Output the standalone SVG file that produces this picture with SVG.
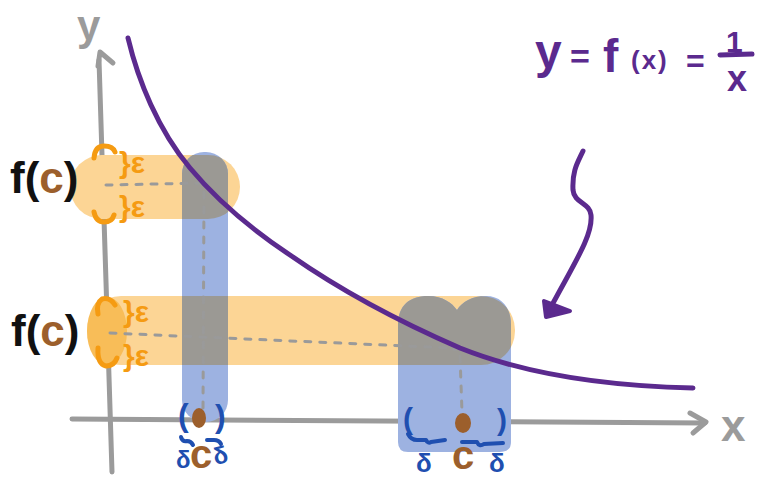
<svg xmlns="http://www.w3.org/2000/svg" width="759" height="479" viewBox="0 0 759 479">
<style>
.ax{stroke:#9b9b9b;stroke-width:5;stroke-linecap:round;stroke-linejoin:round;fill:none}
.dash{stroke:#9a9a9a;stroke-width:3;stroke-dasharray:6 9;stroke-linecap:round;fill:none}
.pur{stroke:#5b2a8e;stroke-width:5;stroke-linecap:round;stroke-linejoin:round;fill:none}
.org{stroke:#f59b12;stroke-width:5;stroke-linecap:round;stroke-linejoin:round;fill:none}
.blu{stroke:#1f4fb0;stroke-width:4;stroke-linecap:round;stroke-linejoin:round;fill:none}
.t{font-family:"Liberation Sans",Arial,sans-serif;font-weight:bold}
.bo{fill:#fcd595}
.bb{fill:#9db2e1}
.gy{fill:#9b9994}
</style>
<defs>
<rect id="o1" x="70" y="155" width="170" height="64" rx="32"/>
<rect id="o2" x="87" y="296" width="428" height="69" rx="34"/>
<rect id="b1" x="182" y="152" width="46" height="270" rx="22"/>
<path id="b2" d="M398,452 L398,325 C398,305 410,296 428,296 C443,296 452,303 457,310 C462,302 472,296 486,296 C502,296 511,308 511,325 L511,442 Q511,452 500,452 L408,452 Q398,452 398,442 Z"/>
<clipPath id="c1"><use href="#o1"/></clipPath>
<clipPath id="c2"><use href="#o2"/></clipPath>
</defs>
<rect width="759" height="479" fill="#fff"/>
<g id="axes">
<path class="ax" d="M99,60 L112,472"/>
<path class="ax" d="M98,66 L100,52 L113,63"/>
<path class="ax" d="M72,419 L705,423"/>
<path class="ax" d="M690,413 L706,422 L693,433"/>
<text class="t" x="77" y="40" font-size="42" fill="#9b9b9b">y</text>
<text class="t" x="721" y="441" font-size="44" fill="#9b9b9b">x</text>
</g>
<g id="bands">
<use href="#o1" class="bo"/>
<use href="#o2" class="bo"/>
<ellipse cx="107" cy="331" rx="20" ry="34" fill="#f8bd58"/>
<use href="#b1" class="bb"/>
<use href="#b2" class="bb"/>
<use href="#b1" class="gy" clip-path="url(#c1)"/>
<use href="#b1" class="gy" clip-path="url(#c2)"/>
<use href="#b2" class="gy" clip-path="url(#c2)"/>
</g>
<g id="guides">
<path class="dash" d="M106,185 L204,183"/>
<path class="dash" d="M204,192 L203,410"/>
<path class="dash" d="M110,333 L452,348"/>
<path class="dash" d="M460,356 L462,412"/>
<circle cx="205" cy="183" r="3" fill="#9a9a9a"/>
<circle cx="455" cy="348" r="3" fill="#9a9a9a"/>
</g>
<g id="curve">
<path class="pur" d="M128,38 C138,80 158,130 190,168 C215,198 245,225 290,255 C340,290 400,322 460,348 C520,372 600,386 693,388"/>
</g>
<g id="connectors">
<path class="pur" d="M583,151 C578,162 572,170 573,190 C574,203 590,203 591,215 C593,235 575,262 552,305"/>
<path d="M544,301 L546,317 L570,311 Z" fill="#5b2a8e" stroke="#5b2a8e" stroke-width="4" stroke-linejoin="round"/>
</g>
<g id="equation" fill="#5b2a8e">
<text class="t" x="535" y="68" font-size="48">y</text>
<text class="t" x="570" y="68" font-size="34">=</text>
<text class="t" x="603" y="72" font-size="46">f</text>
<text class="t" x="631" y="69" font-size="26" letter-spacing="2">(x)</text>
<text class="t" x="686" y="72" font-size="32">=</text>
<text class="t" x="726" y="52" font-size="30">1</text>
<path class="pur" d="M720,55 L752,54"/>
<text class="t" x="727" y="91" font-size="36">x</text>
</g>
<g id="label-fc1">
<text class="t" x="10" y="193" font-size="44" fill="#111">f(<tspan fill="#9c5f2c">c</tspan>)</text>
<path class="org" d="M94,158 Q95,146 104,146 Q113,146 115,152"/>
<path class="org" d="M94,212 Q96,222 104,222 Q112,222 114,215"/>
<text class="t" x="119" y="173" font-size="30" fill="#f59b12">}ε</text>
<text class="t" x="119" y="217" font-size="30" fill="#f59b12">}ε</text>
</g>
<g id="label-fc2">
<text class="t" x="11" y="346" font-size="44" fill="#111">f(<tspan fill="#9c5f2c">c</tspan>)</text>
<path class="org" d="M115,305 Q110,297 102,299 Q96,303 98,314"/>
<path class="org" d="M98,348 Q97,364 106,366 Q114,366 117,358"/>
<text class="t" x="123" y="322" font-size="30" fill="#f59b12">}ε</text>
<text class="t" x="123" y="366" font-size="30" fill="#f59b12">}ε</text>
</g>
<g id="label-c1">
<ellipse cx="199" cy="418" rx="7" ry="10" fill="#9c5f2c"/>
<text class="t" x="178" y="426" font-size="32" fill="#1f4fb0">(</text>
<text class="t" x="215" y="427" font-size="32" fill="#1f4fb0">)</text>
<path class="blu" d="M181,437 Q182,442 187,441 Q191,441 193,445"/>
<path class="blu" d="M207,440 L214,440 Q219,440 221,444"/>
<text class="t" x="176" y="468" font-size="24" fill="#1f4fb0">δ</text>
<text class="t" x="190" y="468" font-size="40" fill="#9c5f2c">c</text>
<text class="t" x="213" y="464" font-size="24" fill="#1f4fb0" transform="rotate(-15 219 455)">δ</text>
</g>
<g id="label-c2">
<ellipse cx="463" cy="423" rx="8" ry="10" fill="#9c5f2c"/>
<text class="t" x="403" y="429" font-size="30" fill="#1f4fb0">(</text>
<text class="t" x="497" y="430" font-size="30" fill="#1f4fb0">)</text>
<path class="blu" d="M408,434 Q411,440 417,440 L426,440 Q428,444 431,442 L445,440"/>
<path class="blu" d="M462,442 L477,442 Q479,447 484,444 L503,443"/>
<text class="t" x="416" y="472" font-size="26" fill="#1f4fb0">δ</text>
<text class="t" x="452" y="469" font-size="40" fill="#9c5f2c">c</text>
<text class="t" x="489" y="472" font-size="26" fill="#1f4fb0">δ</text>
</g>
</svg>
